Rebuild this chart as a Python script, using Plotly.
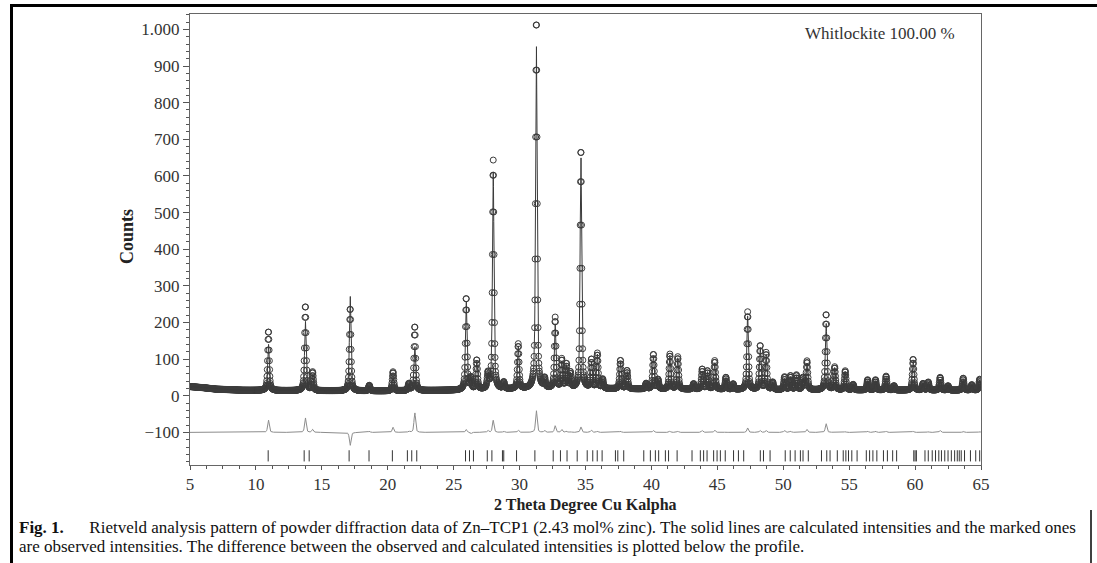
import numpy as np
import plotly.graph_objects as go

# ---------------- data ----------------
# background anchors (2theta, counts)
bg_x = [5, 6, 7, 9, 12, 20, 25, 30, 35, 40, 50, 60, 65]
bg_y = [25, 22, 18, 15, 14, 13, 15, 18, 19, 18, 16, 15, 15]

# reflections: position (deg), calculated height above background, observed height above background
peak_pos = [10.95, 13.75, 14.30, 17.15, 18.60, 20.40, 21.60, 22.05, 25.95, 26.30,
            26.75, 27.60, 28.00, 28.80, 29.90, 31.27, 31.90, 32.70, 33.20, 33.55,
            33.85, 34.65, 35.45, 35.90, 36.30, 37.65, 38.15, 39.60, 40.15, 40.50,
            41.40, 42.00, 43.20, 43.85, 44.25, 44.80, 45.65, 46.20, 47.30, 48.25,
            48.70, 49.20, 50.10, 50.55, 51.00, 51.50, 51.80, 53.25, 53.90, 54.70,
            55.30, 56.40, 57.00, 57.80, 58.40, 59.85, 60.60, 61.00, 61.90, 62.50,
            63.65, 64.30, 64.90]
peak_calc = [128, 192, 42, 262, 12, 38, 15, 122, 244, 34,
             78, 35, 592, 15, 116, 950, 20, 175, 70, 62,
             40, 640, 72, 92, 25, 75, 48, 15, 90, 25,
             92, 85, 15, 50, 48, 72, 32, 15, 200, 115,
             95, 20, 30, 35, 38, 30, 70, 184, 60, 50,
             15, 25, 25, 35, 12, 82, 18, 20, 30, 12,
             30, 15, 28]
peak_obs = [162, 232, 50, 226, 15, 52, 18, 176, 252, 30,
            80, 40, 625, 18, 122, 1010, 25, 193, 78, 65,
            42, 655, 78, 95, 25, 78, 50, 15, 95, 25,
            95, 88, 15, 55, 50, 78, 33, 15, 212, 120,
            100, 20, 35, 38, 40, 32, 78, 208, 62, 52,
            15, 28, 28, 38, 12, 85, 18, 22, 35, 12,
            33, 15, 30]

# Bragg reflection marks
refl_pos = [10.93, 13.66, 14.04, 17.07, 18.58, 20.35, 21.49, 21.82, 22.20, 25.90,
            26.20, 26.50, 27.55, 27.90, 28.70, 28.80, 29.77, 31.16, 32.55, 33.10,
            33.60, 34.37, 35.13, 35.55, 35.89, 36.26, 37.27, 37.45, 37.90, 39.42,
            39.92, 40.30, 40.55, 41.06, 41.30, 41.95, 43.08, 43.71, 43.96, 44.22,
            44.72, 44.98, 45.23, 45.60, 46.23, 46.60, 47.00, 48.26, 48.50, 49.00,
            50.15, 50.53, 50.90, 51.30, 51.50, 51.90, 52.90, 53.30, 53.55, 54.10,
            54.55, 54.75, 54.95, 55.20, 55.60, 56.30, 56.55, 56.80, 57.10, 57.60,
            57.90, 58.30, 58.60, 59.90, 60.00, 60.10, 60.75, 61.00, 61.30, 61.55,
            61.80, 62.00, 62.25, 62.50, 62.75, 63.00, 63.20, 63.35, 63.50, 63.75,
            64.20, 64.60, 64.90]

tick_vals_y = [-100, 0, 100, 200, 300, 400, 500, 600, 700, 800, 900, 1000]
tick_text_y = ["\u2212100", "0", "100", "200", "300", "400", "500", "600",
               "700", "800", "900", "1.000"]
tick_vals_x = [5, 10, 15, 20, 25, 30, 35, 40, 45, 50, 55, 60, 65]

# ---------------- profile construction ----------------
step = 0.02
fwhm = 0.14
eta = 0.55
diff_offset = -100
refl_level = -164

tt = np.arange(5.0, 65.0 + step / 2, step)
bg = np.interp(tt, bg_x, bg_y)


def shape(x0):
    d = tt - x0
    g = np.exp(-4 * np.log(2) * d ** 2 / fwhm ** 2)
    lo = 1.0 / (1.0 + 4 * d ** 2 / fwhm ** 2)
    return eta * lo + (1 - eta) * g


calc = bg.copy()
obs = bg.copy()
for p, hc, ho in zip(peak_pos, peak_calc, peak_obs):
    s = shape(p)
    calc += hc * s
    obs += ho * s
diff = obs - calc + diff_offset

# ---------------- figure ----------------
FONT = "Liberation Serif"
L, R, T, B = 190, 981, 14, 465
W, H = 1097, 563


def px(x):
    return (x - L) / (R - L)


def py(y):
    return (B - y) / (B - T)


fig = go.Figure()
fig.add_trace(go.Scatter(x=tt, y=obs, mode="markers",
                         marker=dict(symbol="circle-open", size=6, color="#3c3c3c",
                                     line=dict(width=1, color="#3c3c3c")),
                         showlegend=False, hoverinfo="skip"))
fig.add_trace(go.Scatter(x=tt, y=calc, mode="lines",
                         line=dict(color="#3a3a3a", width=1),
                         showlegend=False, hoverinfo="skip"))
fig.add_trace(go.Scatter(x=tt, y=diff, mode="lines",
                         line=dict(color="#8c8c8c", width=1),
                         showlegend=False, hoverinfo="skip"))
fig.add_trace(go.Scatter(x=refl_pos, y=[refl_level] * len(refl_pos), mode="markers",
                         marker=dict(symbol="line-ns", size=8, color="#333",
                                     line=dict(width=1, color="#333")),
                         showlegend=False, hoverinfo="skip"))

axis_common = dict(showgrid=False, zeroline=False, showline=True, linecolor="#666",
                   linewidth=1, mirror=True, ticks="outside",
                   tickcolor="#555", tickwidth=1,
                   tickfont=dict(family=FONT, size=17, color="#333"))

fig.update_xaxes(range=[5, 65], tickmode="array", tickvals=tick_vals_x, ticklen=4,
                 minor=dict(dtick=1.25, tick0=5, ticks="outside", ticklen=3,
                            tickcolor="#555"),
                 **axis_common)
fig.update_yaxes(range=[-189, 1042], tickmode="array", tickvals=tick_vals_y,
                 ticktext=tick_text_y, ticklen=6,
                 minor=dict(dtick=20, tick0=0, ticks="outside", ticklen=3,
                            tickcolor="#555"),
                 **axis_common)

annotations = [
    dict(text="Whitlockite 100.00 %", x=px(957), y=py(34), xanchor="right",
         yanchor="middle", font=dict(family=FONT, size=17, color="#333")),
    dict(text="<b>Counts</b>", x=px(127), y=py(237), textangle=-90,
         xanchor="center", yanchor="middle",
         font=dict(family=FONT, size=18, color="#222")),
    dict(text="<b>2 Theta Degree Cu Kalpha</b>", x=px(585), y=py(505),
         xanchor="center", yanchor="middle",
         font=dict(family=FONT, size=16, color="#222")),
    dict(text="<b>Fig. 1.</b>\u2003\u2002Rietveld analysis pattern of powder diffraction data of "
              "Zn\u2013TCP1 (2.43 mol% zinc). The solid lines are calculated intensities and the marked ones",
         x=px(17), y=py(527), xanchor="left", yanchor="middle",
         font=dict(family=FONT, size=17, color="#111")),
    dict(text="are observed intensities. The difference between the observed and calculated "
              "intensities is plotted below the profile.",
         x=px(17), y=py(546), xanchor="left", yanchor="middle",
         font=dict(family=FONT, size=17, color="#111")),
]
for a in annotations:
    a.update(xref="paper", yref="paper", showarrow=False)

shapes = [
    dict(type="line", xref="paper", yref="paper", x0=px(11.5), x1=px(11.5),
         y0=py(4), y1=py(563), line=dict(color="#000", width=3)),
    dict(type="line", xref="paper", yref="paper", x0=px(10), x1=px(1097),
         y0=py(5.5), y1=py(5.5), line=dict(color="#000", width=3)),
    dict(type="line", xref="paper", yref="paper", x0=px(1091), x1=px(1091),
         y0=py(510), y1=py(563), line=dict(color="#000", width=1.5)),
]

fig.update_layout(width=W, height=H, margin=dict(l=L, r=W - R, t=T, b=H - B),
                  paper_bgcolor="white", plot_bgcolor="white",
                  annotations=annotations, shapes=shapes,
                  font=dict(family=FONT))

fig.write_html("out.html")
